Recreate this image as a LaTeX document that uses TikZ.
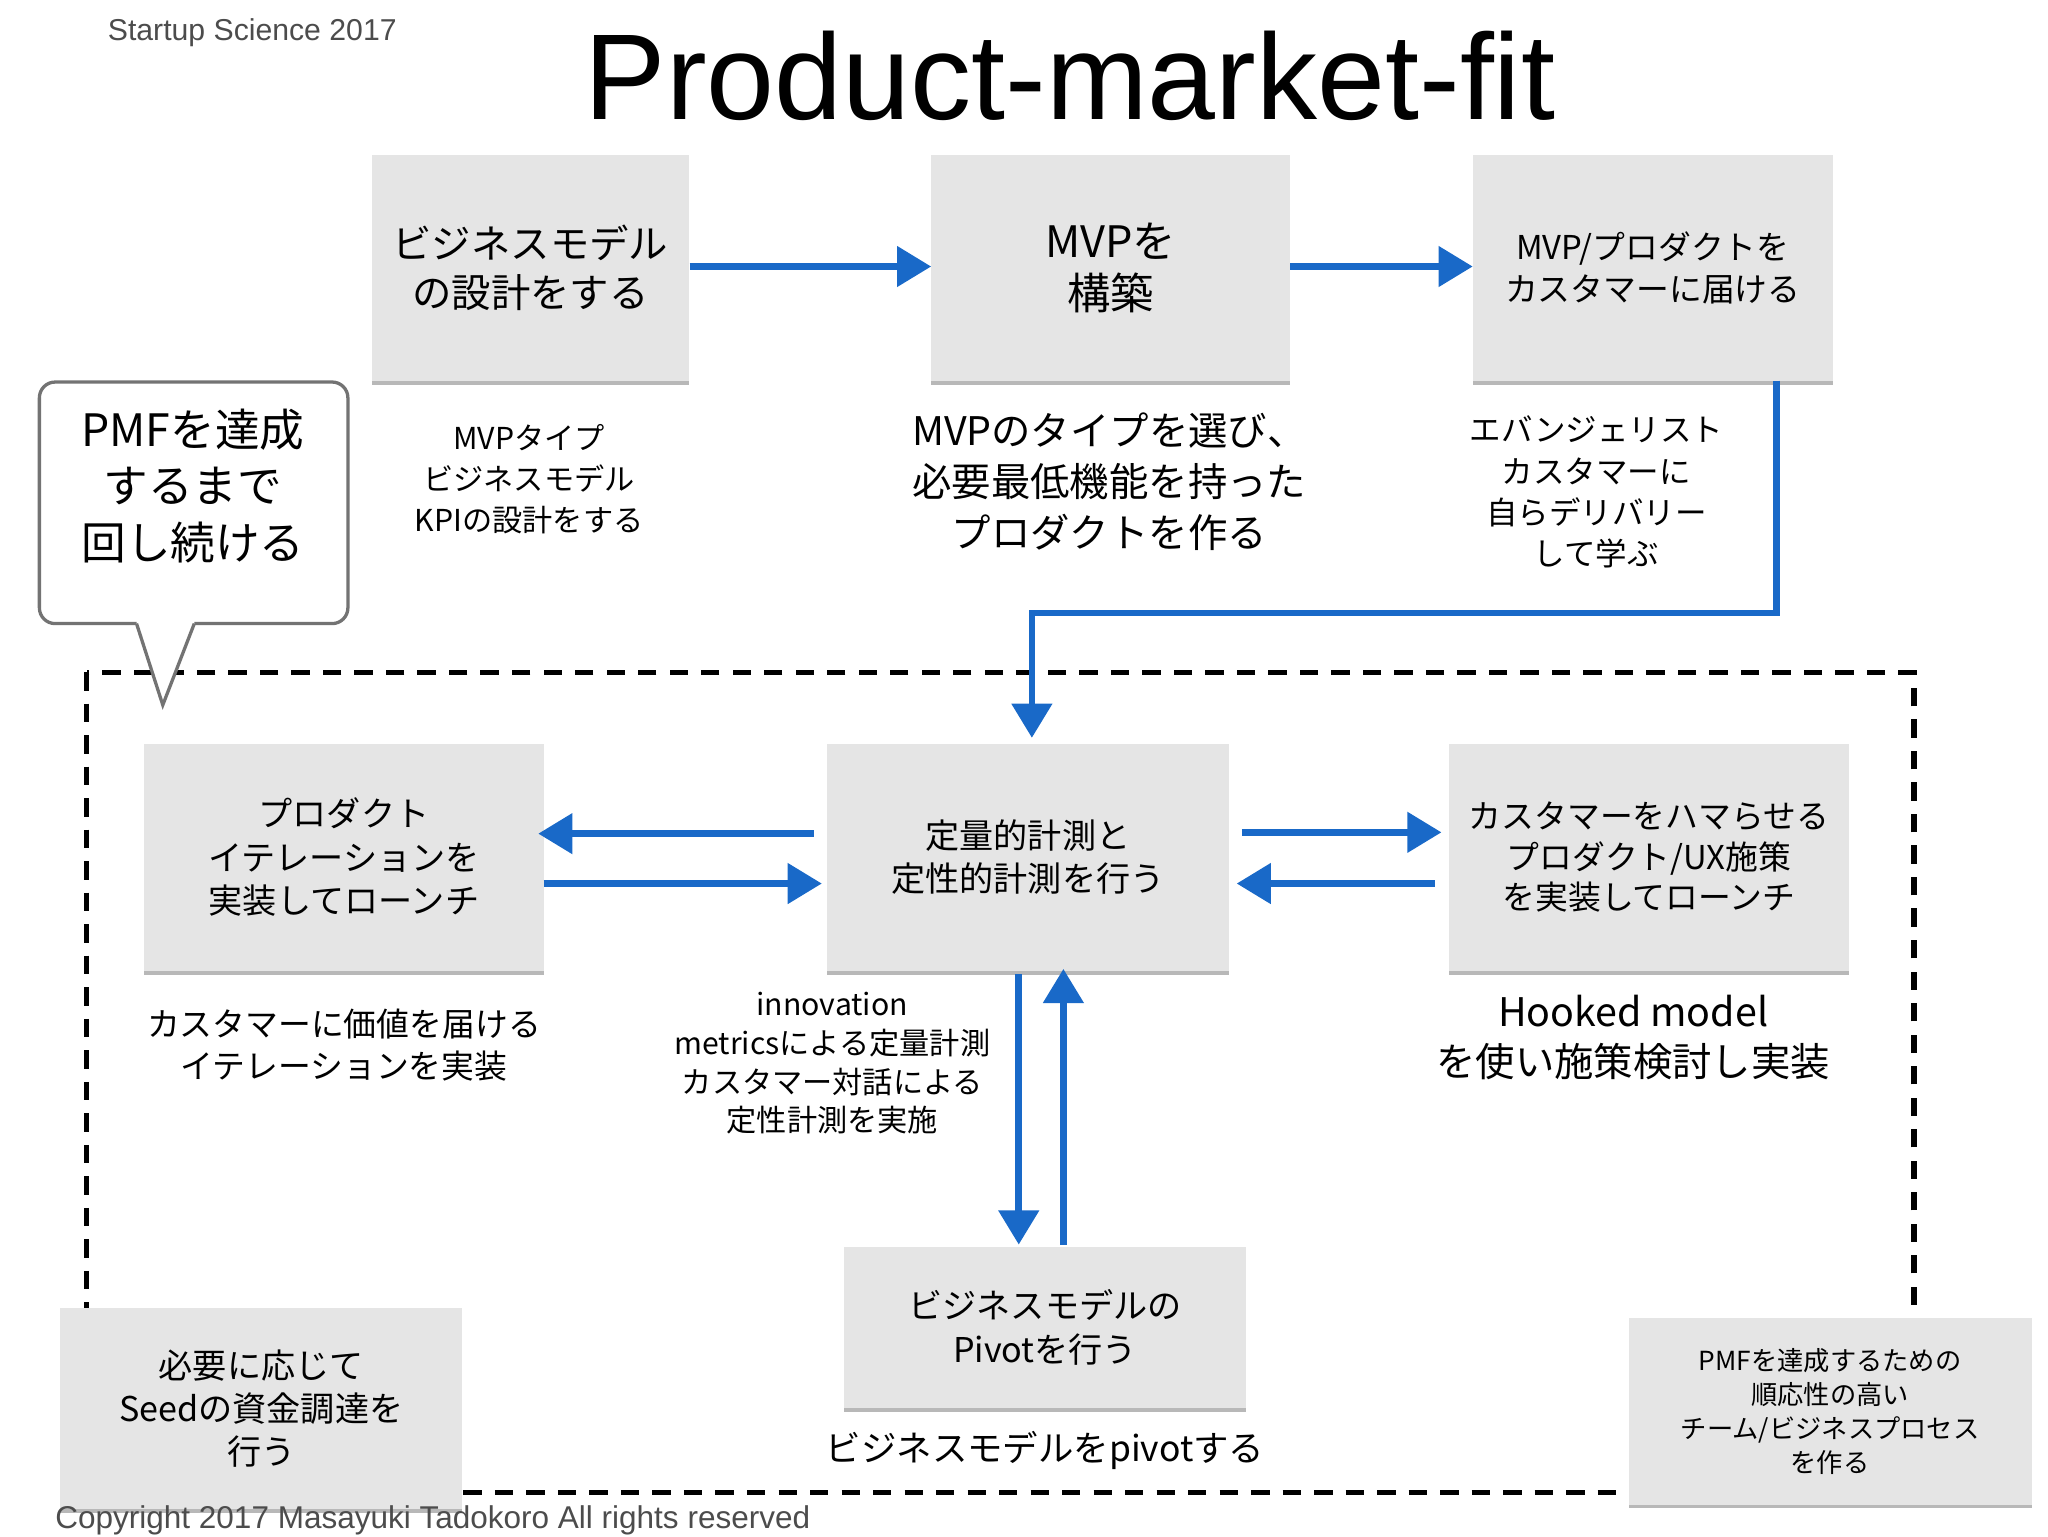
\documentclass[tikz,border=0pt]{standalone}
\usepackage{fontspec}
\setmainfont{Noto Sans CJK JP}
\newfontfamily\lat{Liberation Sans}
\usetikzlibrary{arrows.meta,shadows}
\begin{document}
\begin{tikzpicture}[x=1pt,y=-1pt,
 box/.style={fill=black!10,draw=none,minimum width=#1,align=center,inner sep=0pt,
   drop shadow={shadow xshift=0pt,shadow yshift=-3pt,fill=black!35,opacity=.8}},
 arr/.style={draw={rgb,255:red,25;green,105;blue,200},line width=5pt,-{Triangle[length=26pt,width=30pt]}},
 lab/.style={align=center,inner sep=0pt}]
\useasboundingbox (0,0) rectangle (1560,1170);
\node[lab,anchor=north west,text=black!70,font=\lat\fontsize{23}{26}\selectfont] (hdr) at (82,14) {Startup Science 2017};
\node[lab,font=\lat\fontsize{93}{110}\selectfont] (title) at (815,58) {Product-market-fit};
\draw[line width=4pt,dash pattern=on 14pt off 10pt] (66,512) rectangle (1458,1137);
% top row
\node[box=242pt,minimum height=172pt,font=\fontsize{30}{38}\selectfont] (b1) at (404,204) {ビジネスモデル\\の設計をする};
\node[box=273pt,minimum height=172pt,font=\fontsize{33}{40}\selectfont] (b2) at (846,204) {MVPを\\構築};
\node[box=274pt,minimum height=172pt,font=\fontsize{25}{32}\selectfont] (b3) at (1259,204) {MVP/プロダクトを\\カスタマーに届ける};
\node[lab,font=\fontsize{23}{31}\selectfont] (t1) at (403,365) {MVPタイプ\\ビジネスモデル\\KPIの設計をする};
\node[lab,font=\fontsize{30}{39}\selectfont] (t2) at (845,367) {MVPのタイプを選び、\\必要最低機能を持った\\プロダクトを作る};
\node[lab,font=\fontsize{24}{31.5}\selectfont] (t3) at (1216,375) {エバンジェリスト\\カスタマーに\\自らデリバリー\\して学ぶ};
% callout
\draw[black!55,line width=2.5pt,fill=white,rounded corners=12pt] (104,475) -- (30,475) -- (30,291) -- (265,291) -- (265,475) -- (148,475);
\draw[black!55,line width=2.5pt,fill=white,line join=miter] (104,475) -- (124,537) -- (148,475);
\node[lab,font=\fontsize{34}{43}\selectfont] (cl) at (147,370) {PMFを達成\\するまで\\回し続ける};
% second row
\node[box=304pt,minimum height=173pt,font=\fontsize{26}{33}\selectfont] (c1) at (262,653) {プロダクト\\イテレーションを\\実装してローンチ};
\node[box=306pt,minimum height=173pt,font=\fontsize{26}{33}\selectfont] (c2) at (783,653) {定量的計測と\\定性的計測を行う};
\node[box=305pt,minimum height=173pt,font=\fontsize{25}{31}\selectfont] (c3) at (1256,653) {カスタマーをハマらせる\\プロダクト/UX施策\\を実装してローンチ};
\node[lab,font=\fontsize{25}{32}\selectfont] (u1) at (262,796) {カスタマーに価値を届ける\\イテレーションを実装};
\node[lab,font=\fontsize{23}{29.5}\selectfont] (u2) at (634,810) {innovation\\metricsによる定量計測\\カスタマー対話による\\定性計測を実施};
\node[lab,font=\fontsize{30}{38}\selectfont] (u3) at (1244,790) {Hooked model\\を使い施策検討し実装};
\node[box=306pt,minimum height=123pt,font=\fontsize{26}{33}\selectfont] (pv) at (796,1011) {ビジネスモデルの\\Pivotを行う};
\node[lab,font=\fontsize{27}{32}\selectfont] (pvt) at (796,1105) {ビジネスモデルをpivotする};
\node[box=306pt,minimum height=153pt,font=\fontsize{26}{33}\selectfont] (sd) at (199,1073) {必要に応じて\\Seedの資金調達を\\行う};
\node[box=307pt,minimum height=142pt,font=\fontsize{20}{26}\selectfont] (tm) at (1394,1075) {PMFを達成するための\\順応性の高い\\チーム/ビジネスプロセス\\を作る};
\node[lab,anchor=north west,text=black!70,font=\lat\fontsize{24}{26}\selectfont] (cp) at (42,1147) {Copyright 2017 Masayuki Tadokoro All rights reserved};
% arrows
\coordinate (k1) at (1353,467); \coordinate (k2) at (786,467);
\draw[arr] (b1.east|-0,203) -- (b2.west|-0,203);
\draw[arr] (b2.east|-0,203) -- (b3.west|-0,203);
\draw[arr] (1353,290) -- (k1) -- (k2) -- (786,562);
\draw[arr] (620,635) -- (410,635);
\draw[arr] (414,673) -- (626,673);
\draw[arr] (946,634) -- (1098,634);
\draw[arr] (1093,673) -- (942,673);
\draw[arr] (776,742) -- (776,948);
\draw[arr] (810,948) -- (810,738);
\end{tikzpicture}
\end{document}
